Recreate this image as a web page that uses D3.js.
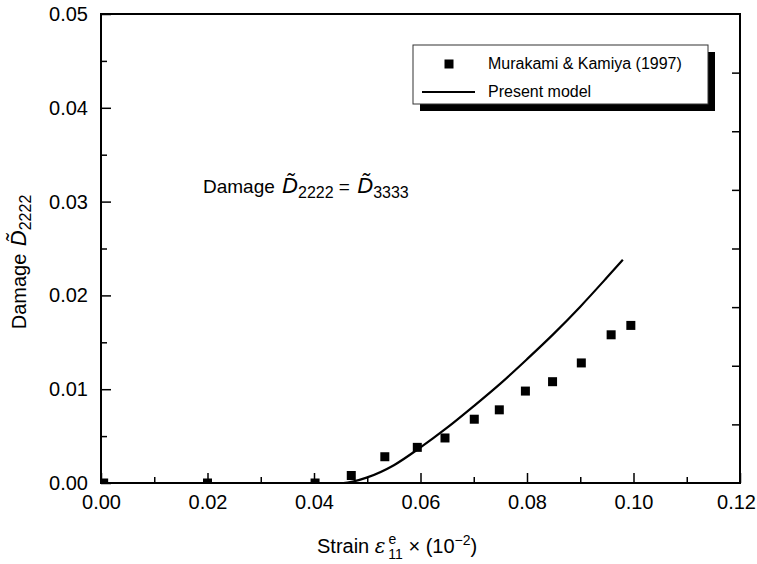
<!DOCTYPE html>
<html>
<head>
<meta charset="utf-8">
<script src="https://cdn.jsdelivr.net/npm/d3@7"></script>
<style>
  body { margin: 0; background: #fff; }
  svg { font-family: "Liberation Sans", Arial, Helvetica, sans-serif; }
</style>
</head>
<body>
<div id="chart"></div>
<script>
// measured points, Murakami & Kamiya (1997)
var expStrain = [0.0005, 0.02, 0.0402, 0.047, 0.0533, 0.0594, 0.0646, 0.0701, 0.0748, 0.0797, 0.0848, 0.0902, 0.0958, 0.0995];
var expDamage = [0, 0, 0, 0.0008, 0.0028, 0.0038, 0.0048, 0.0068, 0.0078, 0.0098, 0.0108, 0.0128, 0.0158, 0.0168];

// present model curve
var modelStrain = [0, 0.044, 0.0455, 0.05, 0.055, 0.06, 0.065, 0.07, 0.075, 0.08, 0.085, 0.09, 0.095, 0.098];
var modelDamage = [0, 0, 0, 0.0006, 0.0019, 0.0038, 0.0059, 0.0082, 0.0106, 0.0132, 0.0159, 0.0188, 0.0219, 0.0238];

var xTicks = [0, 0.02, 0.04, 0.06, 0.08, 0.10, 0.12];
var xMinorTicks = [0.01, 0.03, 0.05, 0.07, 0.09, 0.11];
var yTicks = [0, 0.01, 0.02, 0.03, 0.04, 0.05];
var yMinorTicks = [0.005, 0.015, 0.025, 0.035, 0.045];
var rightTicks = [1, 2, 3, 4, 5, 6, 7].map(function(k){ return 0.05 * k / 8; });

var legendLabels = ["Murakami & Kamiya (1997)", "Present model"];

var svg = d3.select("#chart").append("svg")
    .attr("width", 757)
    .attr("height", 564),
    margin = {top: 14, right: 17, bottom: 81, left: 101},
    width = +svg.attr("width") - margin.left - margin.right,
    height = +svg.attr("height") - margin.top - margin.bottom,
    g = svg.append("g").attr("transform", "translate(" + margin.left + "," + margin.top + ")");

var x = d3.scaleLinear().domain([0, 0.12]).range([0, width]);
var y = d3.scaleLinear().domain([0, 0.05]).range([height, 0]);

svg.append("defs").append("clipPath")
    .attr("id", "plotClip")
  .append("rect")
    .attr("width", width)
    .attr("height", height);

// ticks point inward
g.append("g")
    .attr("class", "axis axis--x")
    .attr("transform", "translate(0," + height + ")")
    .call(d3.axisBottom(x).tickValues(xTicks).tickSize(-10).tickPadding(12).tickFormat(d3.format(".2f")));

g.append("g")
    .attr("class", "axis axis--x-minor")
    .attr("transform", "translate(0," + height + ")")
    .call(d3.axisBottom(x).tickValues(xMinorTicks).tickSize(-6).tickFormat(""));

g.append("g")
    .attr("class", "axis axis--y")
    .call(d3.axisLeft(y).tickValues(yTicks).tickSize(-10).tickPadding(13).tickFormat(d3.format(".2f")));

g.append("g")
    .attr("class", "axis axis--y-minor")
    .call(d3.axisLeft(y).tickValues(yMinorTicks).tickSize(-6).tickFormat(""));

g.append("g")
    .attr("class", "axis axis--right")
    .attr("transform", "translate(" + width + ",0)")
    .call(d3.axisRight(y).tickValues(rightTicks).tickSize(-8).tickFormat(""));

g.selectAll(".axis .domain").remove();
g.selectAll(".axis line").attr("stroke", "#000").attr("stroke-width", 1.5);
g.selectAll(".axis text")
    .attr("fill", "#000")
    .style("font-size", "20px")
    .style("font-family", "\"Liberation Sans\", Arial, sans-serif");

// last x label sits on the page edge
g.selectAll(".axis--x .tick:last-of-type text").attr("dx", -4);

// frame
g.append("rect")
    .attr("width", width)
    .attr("height", height)
    .attr("fill", "none")
    .attr("stroke", "#000")
    .attr("stroke-width", 2);

var plot = g.append("g").attr("clip-path", "url(#plotClip)");

var line = d3.line()
    .x(function(d) { return x(d[0]); })
    .y(function(d) { return y(d[1]); })
    .curve(d3.curveMonotoneX);

plot.append("path")
    .datum(d3.zip(modelStrain, modelDamage))
    .attr("d", line)
    .attr("fill", "none")
    .attr("stroke", "#000")
    .attr("stroke-width", 2.2);

var sq = 9;
plot.selectAll(".pt")
    .data(d3.zip(expStrain, expDamage))
  .enter().append("rect")
    .attr("class", "pt")
    .attr("x", function(d) { return x(d[0]) - sq / 2; })
    .attr("y", function(d) { return y(d[1]) - sq / 2; })
    .attr("width", sq)
    .attr("height", sq)
    .attr("fill", "#000");

// legend with drop shadow
var legend = svg.append("g").attr("transform", "translate(413,45)");
legend.append("rect")
    .attr("x", 7).attr("y", 7)
    .attr("width", 295).attr("height", 59)
    .attr("fill", "#000");
legend.append("rect")
    .attr("width", 295).attr("height", 59)
    .attr("fill", "#fff")
    .attr("stroke", "#333")
    .attr("stroke-width", 1);
legend.append("rect")
    .attr("x", 36 - sq / 2).attr("y", 19 - sq / 2)
    .attr("width", sq).attr("height", sq)
    .attr("fill", "#000");
legend.append("line")
    .attr("x1", 9).attr("x2", 62)
    .attr("y1", 47).attr("y2", 47)
    .attr("stroke", "#000")
    .attr("stroke-width", 2);
legend.selectAll(".legendText")
    .data(legendLabels)
  .enter().append("text")
    .attr("class", "legendText")
    .attr("x", 75)
    .attr("y", function(d, i) { return 24 + i * 28; })
    .style("font-size", "16px")
    .text(function(d) { return d; });

// tilde-D with subscript, used in annotation and y title
function dTilde(parent, sub)
{
    parent.append("tspan").attr("dx", 2).style("font-style", "italic").style("font-size", "22px").text("D\u0303");
    parent.append("tspan").attr("dy", 5).style("font-size", "16px").text(sub);
}

// annotation  Damage D~2222 = D~3333
var note = svg.append("text")
    .attr("x", 203)
    .attr("y", 193)
    .style("font-size", "19px");
note.append("tspan").text("Damage ");
dTilde(note, "2222");
note.append("tspan").attr("dy", -5).text(" = ");
dTilde(note, "3333");

// x axis title
var xt = svg.append("text")
    .attr("x", 317)
    .attr("y", 553)
    .style("font-size", "20px");
xt.append("tspan").text("Strain ");
xt.append("tspan").style("font-style", "italic").style("font-family", "\"DejaVu Serif\", serif").text("\u03b5");
xt.append("tspan").attr("dx", 3).attr("dy", -9).style("font-size", "14px").text("e");
xt.append("tspan").attr("dx", -8).attr("dy", 15).style("font-size", "14px").text("11");
xt.append("tspan").attr("dy", -6).text(" \u00d7 (10");
xt.append("tspan").attr("dy", -8).style("font-size", "14px").text("\u22122");
xt.append("tspan").attr("dy", 8).text(")");

// y axis title
var yt = svg.append("text")
    .attr("transform", "translate(26,262) rotate(-90)")
    .attr("text-anchor", "middle")
    .style("font-size", "20px");
yt.append("tspan").text("Damage ");
dTilde(yt, "2222");
</script>
</body>
</html>
